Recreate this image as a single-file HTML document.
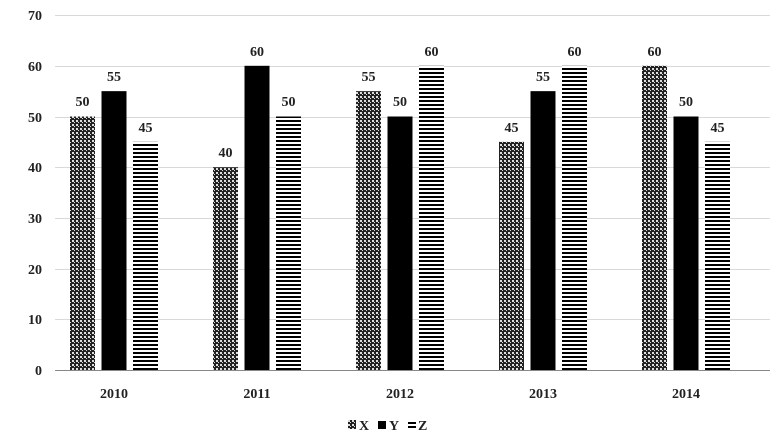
<!DOCTYPE html>
<html><head><style>body{margin:0;background:#fff}svg{display:block}text{font-family:"Liberation Serif",serif;font-weight:bold;font-size:14px;fill:#222}</style></head>
<body>
<svg width="774" height="441" xmlns="http://www.w3.org/2000/svg">
<defs>
<pattern id="px" width="4" height="4" patternUnits="userSpaceOnUse">
<rect width="4" height="4" fill="#222"/><rect x="0" y="0" width="2" height="2" fill="#ddd"/><rect x="2" y="2" width="1" height="1" fill="#ddd"/>
</pattern>
<pattern id="pz" width="4" height="4" patternUnits="userSpaceOnUse">
<rect width="4" height="4" fill="#fff"/><rect width="4" height="2" fill="#000"/>
</pattern>
</defs>
<g stroke="#d9d9d9" stroke-width="1">
<line x1="55" x2="770" y1="15.5" y2="15.5"/><line x1="55" x2="770" y1="66.5" y2="66.5"/><line x1="55" x2="770" y1="117.5" y2="117.5"/><line x1="55" x2="770" y1="167.5" y2="167.5"/><line x1="55" x2="770" y1="218.5" y2="218.5"/><line x1="55" x2="770" y1="269.5" y2="269.5"/><line x1="55" x2="770" y1="319.5" y2="319.5"/>
</g>
<g text-anchor="end">
<text x="42" y="20">70</text><text x="42" y="71">60</text><text x="42" y="122">50</text><text x="42" y="172">40</text><text x="42" y="223">30</text><text x="42" y="274">20</text><text x="42" y="324">10</text><text x="42" y="375">0</text>
</g>
<g>
<rect x="70" y="116.5" width="25" height="253.5" fill="url(#px)"/>
<rect x="101.5" y="91.15" width="25" height="278.85" fill="#000"/>
<rect x="133" y="141.85" width="25" height="228.15" fill="url(#pz)"/>
<rect x="213" y="167.2" width="25" height="202.8" fill="url(#px)"/>
<rect x="244.5" y="65.8" width="25" height="304.2" fill="#000"/>
<rect x="276" y="116.5" width="25" height="253.5" fill="url(#pz)"/>
<rect x="356" y="91.15" width="25" height="278.85" fill="url(#px)"/>
<rect x="387.5" y="116.5" width="25" height="253.5" fill="#000"/>
<rect x="419" y="65.8" width="25" height="304.2" fill="url(#pz)"/>
<rect x="499" y="141.85" width="25" height="228.15" fill="url(#px)"/>
<rect x="530.5" y="91.15" width="25" height="278.85" fill="#000"/>
<rect x="562" y="65.8" width="25" height="304.2" fill="url(#pz)"/>
<rect x="642" y="65.8" width="25" height="304.2" fill="url(#px)"/>
<rect x="673.5" y="116.5" width="25" height="253.5" fill="#000"/>
<rect x="705" y="141.85" width="25" height="228.15" fill="url(#pz)"/>
</g>
<g text-anchor="middle">
<text x="82.5" y="106">50</text><text x="114" y="81">55</text><text x="145.5" y="132">45</text>
<text x="225.5" y="157">40</text><text x="257" y="56">60</text><text x="288.5" y="106">50</text>
<text x="368.5" y="81">55</text><text x="400" y="106">50</text><text x="431.5" y="56">60</text>
<text x="511.5" y="132">45</text><text x="543" y="81">55</text><text x="574.5" y="56">60</text>
<text x="654.5" y="56">60</text><text x="686" y="106">50</text><text x="717.5" y="132">45</text>
</g>
<line x1="55" x2="770" y1="370.5" y2="370.5" stroke="#888"/>
<g text-anchor="middle">
<text x="114" y="398">2010</text><text x="257" y="398">2011</text><text x="400" y="398">2012</text><text x="543" y="398">2013</text><text x="686" y="398">2014</text>
</g>
<rect x="348" y="420" width="8" height="9" fill="url(#px)"/><text x="359" y="430">X</text>
<rect x="378" y="421" width="8" height="8" fill="#000"/><text x="389" y="430">Y</text>
<rect x="408" y="422" width="8" height="2" fill="#000"/><rect x="408" y="426" width="8" height="2" fill="#000"/><text x="418" y="430">Z</text>
</svg>
</body></html>
